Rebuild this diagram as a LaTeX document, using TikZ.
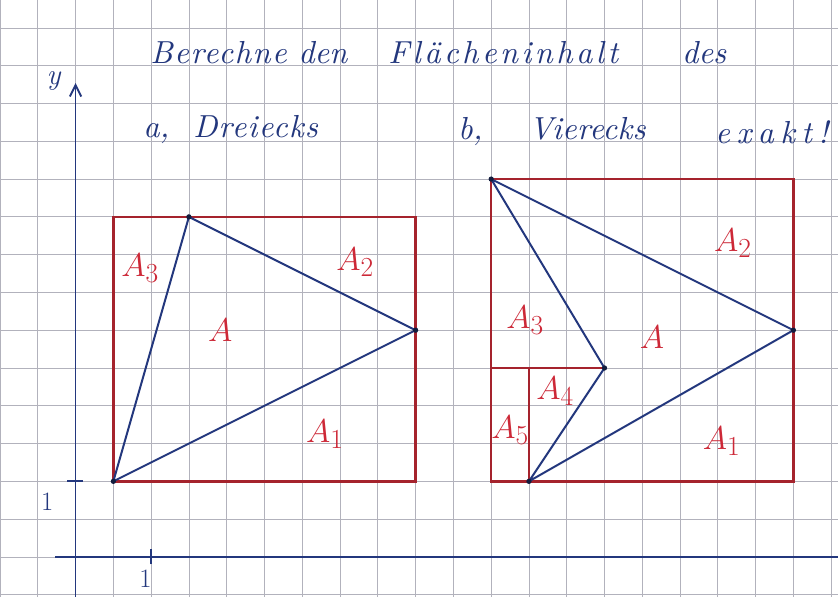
\documentclass[tikz,border=0pt]{standalone}
\usepackage{fontspec}
\newfontfamily\handfont[Extension=.otf, UprightFont=*-regular, ItalicFont=*-italic]{lmroman10}
\usepackage{tikz}
\usetikzlibrary{arrows.meta}
\usepackage{xcolor}
\definecolor{inkblue}{RGB}{35, 55, 125}
\definecolor{inkred}{RGB}{165, 35, 45}
\definecolor{labelred}{RGB}{205, 40, 55}
\definecolor{gridgray}{RGB}{178, 178, 188}
\tikzstyle{gridline} = [gridgray, line width=0.6pt]
\tikzstyle{frame} = [inkred, line width=2pt]
\tikzstyle{edge} = [inkblue, line width=1.5pt, line join=round]
\tikzstyle{axis} = [inkblue, line width=1.4pt]
\tikzset{hand/.style={inkblue, font=\handfont\fontsize{24}{28}\selectfont\itshape\addfontfeature{LetterSpace=#1}, anchor=base west, inner sep=0pt},
         hand/.default=0}
\tikzstyle{area} = [labelred, font=\fontsize{30}{34}\selectfont]
\tikzstyle{unitlabel} = [inkblue, font=\fontsize{20}{24}\selectfont]

\begin{document}
\begin{tikzpicture}[x=1cm, y=1cm]

% Paper
\useasboundingbox (-1.0,-0.06) rectangle (21.18,15.74);
\fill[white] (-1.0,-0.06) rectangle (21.18,15.74);
\draw[gridline] (-1.0,-0.06) grid (21.18,15.74);

% Axes
\coordinate (ybottom) at (1,-0.06);
\coordinate (ytop) at (1,13.54);
\coordinate (xleft) at (0.46,1);
\coordinate (xright) at (21.18,1);
\draw[axis, -{Straight Barb[length=3mm, width=3mm]}] (ybottom) -- (ytop);
\draw[axis] (xleft) -- (xright);
\node[inkblue, font=\fontsize{22}{26}\selectfont\itshape] (ylabel) at (0.42,13.6) {y};

% Unit ticks
\draw[axis] (0.78,3) -- (1.2,3);
\draw[axis] (3,0.8) -- (3,1.2);
\node[unitlabel] (yone) at (0.25,2.45) {1};
\node[unitlabel] (xone) at (2.85,0.42) {1};

% Title
\node[hand=5] (berechne) at (2.97,14.07) {Berechne};
\node[hand] (den) at (6.89,14.07) {den};
\node[hand=11] (flaeche) at (9.27,14.07) {Fl\"acheninhalt};
\node[hand] (des) at (17.05,14.07) {des};
\node[hand] (parta) at (2.79,12.1) {a,};
\node[hand=4] (dreiecks) at (4.11,12.1) {Dreiecks};
\node[hand] (partb) at (11.12,12.05) {b,};
\node[hand=1] (vierecks) at (13.0,12.05) {Vierecks};
\node[hand=20] (exakt) at (17.93,11.95) {exakt!};

% a) triangle
\coordinate (ta) at (2,3);
\coordinate (tb) at (10,7);
\coordinate (tc) at (4,10);
\draw[frame] (2,3) rectangle (10,10);
\draw[edge] (ta) -- (tb) -- (tc) -- cycle;
\foreach \p in {ta, tb, tc}
  \fill[inkblue!50!black] (\p) circle (0.07);

\node[area] (aone) at (7.60,4.25) {$A_1$};
\node[area] (atwo) at (8.40,8.80) {$A_2$};
\node[area] (athree) at (2.71,8.64) {$A_3$};
\node[area] (aa) at (4.83,7.0) {$A$};

% b) quadrilateral
\coordinate (qa) at (13,3);
\coordinate (qb) at (20,7);
\coordinate (qc) at (12,11);
\coordinate (qd) at (15,6);
\draw[frame] (12,3) rectangle (20,11);
\draw[frame] (12,6) -- (qd);
\draw[frame] (13,3) -- (13,6);
\draw[edge] (qa) -- (qb) -- (qc) -- (qd) -- cycle;
\foreach \p in {qa, qb, qc, qd}
  \fill[inkblue!50!black] (\p) circle (0.07);

\node[area] (bone) at (18.1,4.07) {$A_1$};
\node[area] (btwo) at (18.4,9.3) {$A_2$};
\node[area] (bthree) at (12.9,7.27) {$A_3$};
\node[area] (bfour) at (13.69,5.39) {$A_4$};
\node[area] (bfive) at (12.5,4.36) {$A_5$};
\node[area] (bb) at (16.26,6.82) {$A$};

\end{tikzpicture}
\end{document}
